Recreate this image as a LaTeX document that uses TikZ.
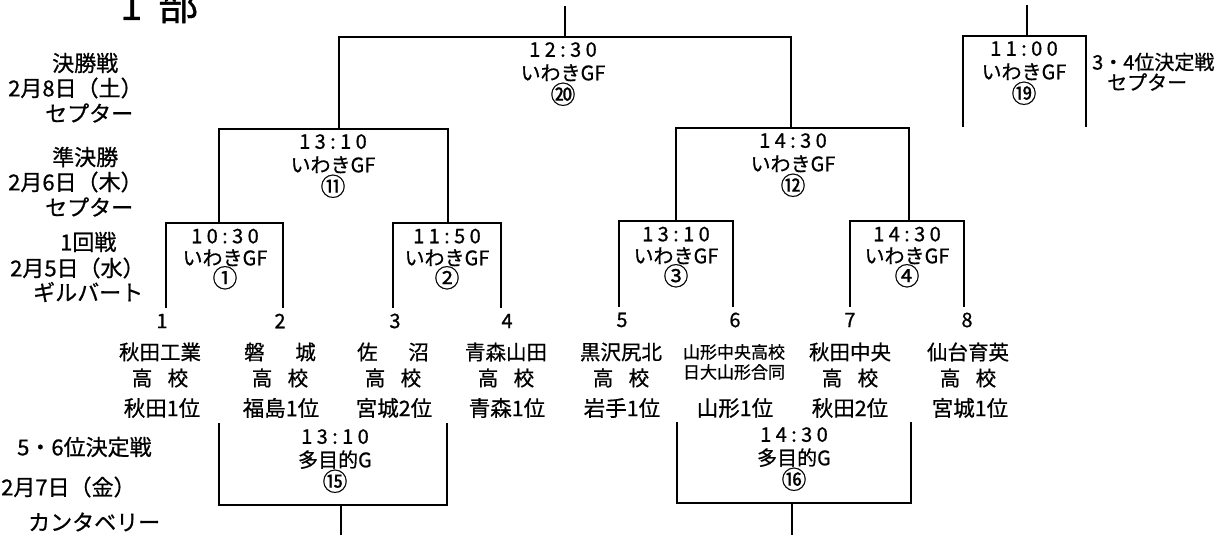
\documentclass[tikz,border=0pt]{standalone}
\usepackage{fontspec}
\setmainfont{Noto Sans CJK JP}[FakeBold=0.7]
\newfontfamily\timefont[LetterSpace=22, FakeBold=0.7]{Noto Sans CJK JP}
\usepackage{tikz}
\usetikzlibrary{positioning}
\tikzset{every picture/.append style={x=1pt,y=-1pt}}
\tikzset{bracket/.style={line width=1.9pt}}
\tikzset{game/.style={align=center, inner sep=0pt, font=\fontsize{20}{#1}\selectfont}}
\tikzset{game/.default=23.5}
\tikzset{team/.style={align=center, inner sep=0pt, font=\fontsize{20.5}{26}\selectfont}}
\tikzset{seed/.style={inner sep=0pt, font=\fontsize{20}{24}\selectfont}}
\tikzset{pref/.style={inner sep=0pt, font=\fontsize{21.5}{24}\selectfont}}
\tikzset{day/.style={anchor=west, inner sep=0pt, font=\fontsize{22}{24}\selectfont}}
\newcommand{\gno}[1]{\raisebox{0pt}[15pt][2pt]{\fontsize{25}{25}\selectfont #1}}

\begin{document}
\begin{tikzpicture}
  \useasboundingbox (0,0) rectangle (1232,535);
  \clip (0,0) rectangle (1232,535);
  \node (title) at (120,20)[anchor=base west, inner sep=0pt, font=\fontsize{40}{40}\selectfont]{1\hspace{0.4em}部};

  % left column
  \node (fday1) at (52,63)[day]{決勝戦};
  \node (fday2) at (8,88)[day]{2月8日（土）};
  \node (fday3) at (45,113)[day]{セプター};
  \node (sday1) at (52,157)[day]{準決勝};
  \node (sday2) at (8,182)[day]{2月6日（木）};
  \node (sday3) at (45,207)[day]{セプター};
  \node (rday1) at (60,242)[day]{1回戦};
  \node (rday2) at (10,268)[day]{2月5日（水）};
  \node (rday3) at (33,292)[day]{ギルバート};
  \node (pday1) at (17,447)[day]{5・6位決定戦};
  \node (pday2) at (1,487)[day]{2月7日（金）};
  \node (pday3) at (28,522)[day]{カンタベリー};
  \node (tday1) at (1092,62)[day, font=\fontsize{20}{24}\selectfont]{3・4位決定戦};
  \node (tday2) at (1107,82)[day, font=\fontsize{20}{24}\selectfont]{セプター};

  % games
  \node (lab20) at (563,74)[game]{{\timefont 12:30}\\いわきGF\\\gno{⑳}};
  \node (lab11) at (333,166)[game]{{\timefont 13:10}\\いわきGF\\\gno{⑪}};
  \node (lab12) at (793,165)[game]{{\timefont 14:30}\\いわきGF\\\gno{⑫}};
  \node (lab19) at (1024,73)[game]{{\timefont 11:00}\\いわきGF\\\gno{⑲}};
  \node (lab1) at (225,259)[game=22]{{\timefont 10:30}\\いわきGF\\\gno{①}};
  \node (lab2) at (447,259)[game=22]{{\timefont 11:50}\\いわきGF\\\gno{②}};
  \node (lab3) at (676,257)[game=22]{{\timefont 13:10}\\いわきGF\\\gno{③}};
  \node (lab4) at (907,257)[game=22]{{\timefont 14:30}\\いわきGF\\\gno{④}};
  \node (lab15) at (335,461)[game]{{\timefont 13:10}\\多目的G\\\gno{⑮}};
  \node (lab16) at (794,459)[game]{{\timefont 14:30}\\多目的G\\\gno{⑯}};

  % seeds and teams
  \node (n1) at (162,321)[seed]{1};
  \node (n2) at (280,321)[seed]{2};
  \node (n3) at (395,321)[seed]{3};
  \node (n4) at (507,321)[seed]{4};
  \node (n5) at (622,320)[seed]{5};
  \node (n6) at (735,320)[seed]{6};
  \node (n7) at (850,320)[seed]{7};
  \node (n8) at (967,320)[seed]{8};

  \node (t1) at (160,365)[team]{秋田工業\\高\hspace{0.75em}校};
  \node (t2) at (280,365)[team]{磐\hspace{1.5em}城\\高\hspace{0.75em}校};
  \node (t3) at (393,365)[team]{佐\hspace{1.5em}沼\\高\hspace{0.75em}校};
  \node (t4) at (506,365)[team]{青森山田\\高\hspace{0.75em}校};
  \node (t5) at (621,365)[team]{黒沢尻北\\高\hspace{0.75em}校};
  \node (t6) at (734,362)[team, font=\fontsize{17}{20}\selectfont]{山形中央高校\\日大山形合同};
  \node (t7) at (850,365)[team]{秋田中央\\高\hspace{0.75em}校};
  \node (t8) at (968,365)[team]{仙台育英\\高\hspace{0.75em}校};

  \node (pf1) at (162,408)[pref]{秋田1位};
  \node (pf2) at (281,408)[pref]{福島1位};
  \node (pf3) at (394,408)[pref]{宮城2位};
  \node (pf4) at (507,408)[pref]{青森1位};
  \node (pf5) at (622,408)[pref]{岩手1位};
  \node (pf6) at (735,408)[pref]{山形1位};
  \node (pf7) at (850,408)[pref]{秋田2位};
  \node (pf8) at (970,408)[pref]{宮城1位};

  % bracket ends and joints
  \coordinate (e1) at (166,308);
  \coordinate (e2) at (283,308);
  \coordinate (e3) at (393,308);
  \coordinate (e4) at (501,308);
  \coordinate (e5) at (619,307);
  \coordinate (e6) at (733,307);
  \coordinate (e7) at (850,307);
  \coordinate (e8) at (964,307);
  \coordinate (g1) at (219,223);
  \coordinate (g2) at (448,223);
  \coordinate (g3) at (676,221);
  \coordinate (g4) at (909,221);
  \coordinate (g11) at (339,129);
  \coordinate (g12) at (791,128);
  \coordinate (g20) at (565,37);
  \coordinate (top20) at (565,6);
  \coordinate (f19l) at (963,127);
  \coordinate (f19r) at (1086,127);
  \coordinate (g19) at (1027,36);
  \coordinate (top19) at (1027,5);
  \coordinate (c2) at (219,423);
  \coordinate (c3) at (447,423);
  \coordinate (g15) at (341,505);
  \coordinate (bot15) at (341,537);
  \coordinate (c6) at (677,422);
  \coordinate (c7) at (911,422);
  \coordinate (g16) at (792,503);
  \coordinate (bot16) at (792,537);

  \draw[bracket] (e1) |- (g1) -| (e2);
  \draw[bracket] (e3) |- (g2) -| (e4);
  \draw[bracket] (e5) |- (g3) -| (e6);
  \draw[bracket] (e7) |- (g4) -| (e8);
  \draw[bracket] (g1) |- (g11) -| (g2);
  \draw[bracket] (g3) |- (g12) -| (g4);
  \draw[bracket] (g11) |- (g20) -| (g12);
  \draw[bracket] (g20) -- (top20);
  \draw[bracket] (f19l) |- (g19) -| (f19r);
  \draw[bracket] (g19) -- (top19);
  \draw[bracket] (c2) |- (g15) -| (c3);
  \draw[bracket] (g15) -- (bot15);
  \draw[bracket] (c6) |- (g16) -| (c7);
  \draw[bracket] (g16) -- (bot16);
\end{tikzpicture}
\end{document}
